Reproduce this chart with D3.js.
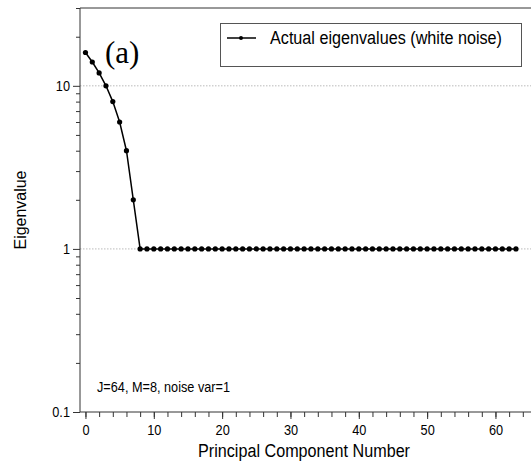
<!DOCTYPE html>
<html>
<head>
<meta charset="utf-8">
<script src="https://cdn.jsdelivr.net/npm/d3@7"></script>
<style>
  body { margin: 0; background: #fff; }
  text { font-family: "Liberation Sans Narrow", "Arial Narrow", "Liberation Sans", sans-serif; }
</style>
</head>
<body>
<svg id="chart"></svg>
<script>
// component index and eigenvalue
const components = d3.range(0, 64);
const eigenvalues = [16, 14, 12, 10, 8, 6, 4, 2].concat(d3.range(8, 64).map(() => 1));
const xTicks = [0, 10, 20, 30, 40, 50, 60];
const yTicks = [0.1, 1, 10];
const gridValues = [1, 10];

const width = 531;
const height = 465;
const plot = {left: 80, right: 531, top: 8, bottom: 412};

let svg = d3.select('#chart')
    .attr('width', width)
    .attr('height', height);

// squeeze text horizontally to look like a narrow sans face
function narrow(sel, factor) {
    sel.each(function() {
        let w = this.getComputedTextLength();
        d3.select(this).attr('textLength', w * factor).attr('lengthAdjust', 'spacingAndGlyphs');
    });
}

let x = d3.scaleLinear().domain([-0.8, 65.2]).range([plot.left, plot.right]);
let y = d3.scaleLog().domain([0.1, 30]).range([plot.bottom, plot.top]);

// dotted grid lines
svg.selectAll('.grid')
    .data(gridValues)
    .enter()
    .append('line')
    .attr('x1', plot.left).attr('x2', plot.right)
    .attr('y1', d => y(d)).attr('y2', d => y(d))
    .attr('stroke', '#aaa')
    .attr('stroke-width', 0.8)
    .attr('stroke-dasharray', '1.5,1.5');

// top frame line
svg.append('line')
    .attr('x1', plot.left).attr('x2', plot.right)
    .attr('y1', plot.top).attr('y2', plot.top)
    .attr('stroke', '#333');

// x axis with minor ticks
let xAxis = svg.append('g').attr('transform', 'translate(0,' + plot.bottom + ')');
xAxis.call(d3.axisBottom(x).tickValues(d3.range(0, 66, 2)).tickSize(5).tickFormat(''))
    .call(g => g.select('.domain').remove());
xAxis.append('g').call(d3.axisBottom(x).tickValues(xTicks).tickSize(7).tickPadding(5).tickFormat(d3.format('d')))
    .call(g => g.select('.domain').remove())
    .call(g => g.selectAll('text').attr('font-size', 15).attr('fill', '#000')
        .style('font-family', 'inherit').call(narrow, 0.85));
xAxis.selectAll('line').attr('stroke', '#333');
xAxis.append('line').attr('x1', plot.left).attr('x2', plot.right).attr('stroke', '#333');

// y axis with minor ticks
let minorY = [];
[0.1, 1, 10].forEach(b => d3.range(2, 10).forEach(k => { if (b * k <= 30) minorY.push(b * k); }));
let yAxis = svg.append('g').attr('transform', 'translate(' + plot.left + ',0)');
yAxis.call(d3.axisLeft(y).tickValues(minorY).tickSize(4).tickFormat(''))
    .call(g => g.select('.domain').remove());
yAxis.append('g').call(d3.axisLeft(y).tickValues(yTicks).tickSize(7).tickPadding(3).tickFormat(d => d < 1 ? '0.1' : d3.format('d')(d)))
    .call(g => g.select('.domain').remove())
    .call(g => g.selectAll('text').attr('font-size', 15).attr('fill', '#000')
        .style('font-family', 'inherit').call(narrow, 0.85));
yAxis.selectAll('line').attr('stroke', '#333');
yAxis.append('line').attr('y1', plot.top).attr('y2', plot.bottom).attr('stroke', '#333');

// data line and markers
let series = components.map((c, i) => [c, eigenvalues[i]]);
svg.append('path')
    .datum(series)
    .attr('fill', 'none')
    .attr('stroke', '#000')
    .attr('stroke-width', 1.5)
    .attr('d', d3.line().x(d => x(d[0])).y(d => y(d[1])));

svg.selectAll('.pt')
    .data(series)
    .enter()
    .append('circle')
    .attr('cx', d => x(d[0]))
    .attr('cy', d => y(d[1]))
    .attr('r', 2.6)
    .attr('fill', '#000');

// legend
svg.append('rect')
    .attr('x', 220.5).attr('y', 23.5)
    .attr('width', 301).attr('height', 43)
    .attr('fill', '#fff')
    .attr('stroke', '#555');
svg.append('line')
    .attr('x1', 227).attr('x2', 256).attr('y1', 38).attr('y2', 38)
    .attr('stroke', '#000').attr('stroke-width', 1.5);
svg.append('circle').attr('cx', 241).attr('cy', 38).attr('r', 2).attr('fill', '#000');
svg.append('text')
    .attr('x', 270).attr('y', 38).attr('dy', '0.35em')
    .attr('font-size', 18)
    .attr('textLength', 232).attr('lengthAdjust', 'spacingAndGlyphs')
    .text('Actual eigenvalues (white noise)');

// panel label
svg.append('text')
    .attr('x', 105).attr('y', 63)
    .attr('font-size', 31)
    .style('font-family', '"Liberation Serif", "Times New Roman", serif')
    .text('(a)');

// annotation
svg.append('text')
    .attr('x', 97).attr('y', 387).attr('dy', '0.35em')
    .attr('font-size', 14)
    .attr('textLength', 133).attr('lengthAdjust', 'spacingAndGlyphs')
    .text('J=64, M=8, noise var=1');

// axis titles
svg.append('text')
    .attr('x', 304).attr('y', 451).attr('dy', '0.35em')
    .attr('text-anchor', 'middle')
    .attr('font-size', 18)
    .attr('textLength', 212).attr('lengthAdjust', 'spacingAndGlyphs')
    .text('Principal Component Number');

svg.append('text')
    .attr('transform', 'translate(26,210) rotate(-90)')
    .attr('text-anchor', 'middle')
    .attr('font-size', 16)
    .attr('textLength', 79).attr('lengthAdjust', 'spacingAndGlyphs')
    .text('Eigenvalue');
</script>
</body>
</html>
